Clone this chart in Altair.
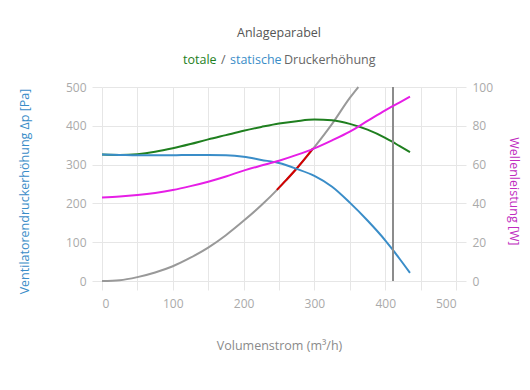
import altair as alt
import pandas as pd

# --- data ---
q_stat = [0, 25, 50, 75, 100, 125, 150, 175, 200, 225, 250, 275, 300, 325, 350, 375, 400, 410, 420, 435]
p_stat = [326, 325, 324, 324, 324, 325, 325, 324, 320, 312, 304, 289, 271, 243, 202, 156, 105, 82, 58, 21]

q_tot = [0, 25, 50, 75, 100, 125, 150, 175, 200, 225, 250, 275, 300, 325, 350, 375, 400, 410, 420, 435]
p_tot = [326, 325, 327, 333, 342, 353, 365, 376, 387, 397, 406, 412, 416, 414, 405, 390, 369, 359, 348, 332]

q_pow = [0, 25, 50, 75, 100, 125, 150, 175, 200, 225, 250, 275, 300, 325, 350, 375, 400, 420, 435]
w_pow = [43, 43.5, 44.3, 45.4, 46.9, 48.9, 51.2, 53.9, 56.9, 59.5, 62, 65, 68.4, 72.5, 77, 82.5, 88, 92, 95]

q_par = [0, 25, 50, 75, 100, 125, 150, 175, 200, 225, 250, 275, 300, 325, 350, 362]
p_par = [0, 2, 10, 22, 38, 60, 86, 118, 155, 195, 240, 290, 345, 405, 472, 500]

q_red = [247, 260, 275, 290, 298]
p_red = [235, 260, 290, 323, 342]

q_op = [411, 411]
p_op = [0, 500]

x_ticks = [0, 50, 100, 150, 200, 250, 300, 350, 400, 450, 500]
y_ticks = [0, 100, 200, 300, 400, 500]
w_ticks = [0, 20, 40, 60, 80, 100]

title_text = "Anlageparabel"
sub_parts = ["totale", "/", "statische", "Druckerhöhung"]

GREEN = "#1f7f1f"
BLUE = "#3a8dc8"
MAGENTA = "#e61ee6"
GRID = "#e6e6e6"
FONT = "Open Sans"

df_stat = pd.DataFrame({"q": q_stat, "p": p_stat})
df_tot = pd.DataFrame({"q": q_tot, "p": p_tot})
df_pow = pd.DataFrame({"q": q_pow, "w": w_pow})
df_par = pd.DataFrame({"q": q_par, "p": p_par})
df_red = pd.DataFrame({"q": q_red, "p": p_red})
df_op = pd.DataFrame({"q": q_op, "p": p_op})

xscale = alt.Scale(domain=[0, 500], nice=False, zero=False)
yscale = alt.Scale(domain=[0, 500], nice=False)
wscale = alt.Scale(domain=[0, 100], nice=False)

x_axis = alt.Axis(
    values=x_ticks, title="Volumenstrom (m³/h)",
    labelExpr="datum.value % 100 == 0 ? datum.label : ''",
    grid=True, gridColor=GRID, tickColor=GRID, tickSize=9, domain=False,
    labelColor="#aaaaaa", labelFontSize=12, labelPadding=8, labelFont=FONT,
    titleColor="#8a8a8a", titleFontSize=12.5, titleFontWeight="normal", titleFont=FONT,
    titlePadding=30,
)
y_axis = alt.Axis(
    values=y_ticks, title="Ventilatorendruckerhöhung Δp [Pa]",
    grid=True, gridColor=GRID, tickColor=GRID, tickSize=10, domain=False,
    labelColor="#aaaaaa", labelFontSize=12, labelPadding=6, labelFont=FONT,
    titleColor=BLUE, titleFontSize=12.5, titleFontWeight="normal", titleFont=FONT,
    titlePadding=34, titleY=104,
)
w_axis = alt.Axis(
    values=w_ticks, title="Wellenleistung [W]", orient="right",
    grid=False, tickColor=GRID, tickSize=10, domain=False,
    labelColor="#aaaaaa", labelFontSize=12, labelPadding=6, labelFont=FONT,
    titleColor="#c02cc0", titleFontSize=12.5, titleFontWeight="normal", titleFont=FONT,
    titlePadding=14, titleY=104,
)


def line(df, color, width=2):
    return alt.Chart(df).mark_line(color=color, strokeWidth=width, interpolate="monotone").encode(
        x=alt.X("q:Q", scale=xscale, axis=x_axis),
        y=alt.Y("p:Q", scale=yscale, axis=y_axis),
    )


par = line(df_par, "#999999")
red = line(df_red, "#d40000")
tot = line(df_tot, GREEN)
stat = line(df_stat, BLUE)
op = alt.Chart(df_op).mark_line(color="#8c8c8c", strokeWidth=2).encode(
    x=alt.X("q:Q", scale=xscale, axis=x_axis),
    y=alt.Y("p:Q", scale=yscale, axis=y_axis),
)

# title and multi-coloured subtitle as text marks
title = alt.Chart(pd.DataFrame({"t": [title_text]})).mark_text(
    align="center", baseline="alphabetic", font=FONT, fontSize=12.5, color="#555555"
).encode(text="t:N", x=alt.value(177), y=alt.value(-50))

sub_colors = [GREEN, "#666666", BLUE, "#666666"]
sub_x = [81, 119, 128, 182]
subs = [
    alt.Chart(pd.DataFrame({"t": [t]})).mark_text(
        align="left", baseline="alphabetic", font=FONT, fontSize=12.5, color=c
    ).encode(text="t:N", x=alt.value(xx), y=alt.value(-23))
    for t, c, xx in zip(sub_parts, sub_colors, sub_x)
]

left = alt.layer(par, red, tot, stat, op, title, *subs)

pow_line = alt.Chart(df_pow).mark_line(color=MAGENTA, strokeWidth=2, interpolate="monotone").encode(
    x=alt.X("q:Q", scale=xscale, axis=x_axis),
    y=alt.Y("w:Q", scale=wscale, axis=w_axis),
)

chart = alt.layer(left, pow_line).resolve_scale(y="independent").properties(
    width=354, height=194,
    padding={"left": 94, "top": 79, "right": 66, "bottom": 90},
    autosize=alt.AutoSizeParams(type="none"),
).configure_view(stroke=None)

chart.save("out.html", embed_options={"renderer": "svg", "actions": False})
